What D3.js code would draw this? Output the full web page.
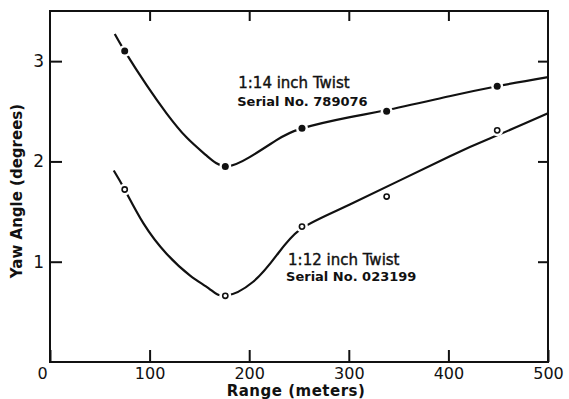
<!DOCTYPE html>
<html>
<head>
<meta charset="utf-8">
<script src="https://cdn.jsdelivr.net/npm/d3@7"></script>
<style>
  body { margin: 0; background: #fff; }
  svg { display: block; }
  text { font-family: "DejaVu Sans", sans-serif; fill: #111; }
</style>
</head>
<body>
<svg id="chart" width="569" height="399"></svg>
<script>
// measured points (range in meters, yaw in degrees)
const markerRange = [75, 176, 253, 338, 449];
const yaw14 = [3.10, 1.95, 2.33, 2.50, 2.75];
const yaw12 = [1.72, 0.66, 1.35, 1.65, 2.31];

// hand-faired curves
const curve14Range = [65, 75, 97, 117, 137, 157, 176, 200, 227, 253, 300, 337, 401, 449, 500];
const curve14Yaw = [3.27, 3.10, 2.76, 2.48, 2.24, 2.06, 1.95, 2.04, 2.21, 2.33, 2.44, 2.51, 2.65, 2.75, 2.84];
const curve12Range = [64, 75, 94, 117, 141, 160, 176, 204, 228, 251, 301, 401, 449, 500];
const curve12Yaw = [1.91, 1.72, 1.38, 1.08, 0.86, 0.73, 0.66, 0.80, 1.07, 1.32, 1.57, 2.05, 2.26, 2.48];

const xTicks = [0, 100, 200, 300, 400, 500];
const yTicks = [1, 2, 3];

const margin = { top: 11, right: 21, bottom: 37, left: 50 };
const svg = d3.select('#chart');
const width = 569 - margin.left - margin.right;
const height = 399 - margin.top - margin.bottom;

const g = svg.append('g')
  .attr('transform', `translate(${margin.left},${margin.top})`);

const x = d3.scaleLinear().domain([0, 500]).range([0, width]);
const y = d3.scaleLinear().domain([0, 3.5]).range([height, 0]);

// ticks point inward on all four sides
const bottom = g.append('g')
  .attr('transform', `translate(0,${height})`)
  .call(d3.axisBottom(x).tickValues(xTicks).tickSize(-12).tickPadding(6).tickFormat(d3.format('d')));
bottom.selectAll('text')
  .style('font-size', '16px')
  .attr('dx', d => d === 0 ? -8 : 0);

g.append('g')
  .call(d3.axisTop(x).tickValues(xTicks.slice(1, -1)).tickSize(-10).tickFormat(''));

const left = g.append('g')
  .call(d3.axisLeft(y).tickValues(yTicks).tickSize(-12).tickPadding(6).tickFormat(d3.format('d')));
left.selectAll('text').style('font-size', '17px');

g.append('g')
  .attr('transform', `translate(${width},0)`)
  .call(d3.axisRight(y).tickValues(yTicks).tickSize(-10).tickFormat(''));

g.selectAll('.domain').remove();
g.selectAll('.tick line').attr('stroke', '#111').attr('stroke-width', 2);

g.append('rect')
  .attr('width', width)
  .attr('height', height)
  .attr('fill', 'none')
  .attr('stroke', '#111')
  .attr('stroke-width', 2);

// curves
const line = d3.line()
  .x(d => x(d[0]))
  .y(d => y(d[1]))
  .curve(d3.curveNatural);

[[curve14Range, curve14Yaw], [curve12Range, curve12Yaw]].forEach(([r, v]) => {
  g.append('path')
    .datum(r.map((d, i) => [d, v[i]]))
    .attr('fill', 'none')
    .attr('stroke', '#111')
    .attr('stroke-width', 2.2)
    .attr('d', line);
});

// markers with a white gap around them, as in the original
const pts14 = markerRange.map((d, i) => [d, yaw14[i]]);
const pts12 = markerRange.map((d, i) => [d, yaw12[i]]);

g.selectAll('.halo')
  .data(pts14.concat(pts12))
  .enter().append('circle')
  .attr('cx', d => x(d[0]))
  .attr('cy', d => y(d[1]))
  .attr('r', 6)
  .attr('fill', '#fff');

g.selectAll('.dot14')
  .data(pts14)
  .enter().append('circle')
  .attr('cx', d => x(d[0]))
  .attr('cy', d => y(d[1]))
  .attr('r', 3.5)
  .attr('fill', '#111');

g.selectAll('.dot12')
  .data(pts12)
  .enter().append('circle')
  .attr('cx', d => x(d[0]))
  .attr('cy', d => y(d[1]))
  .attr('r', 2.6)
  .attr('fill', '#fff')
  .attr('stroke', '#111')
  .attr('stroke-width', 1.6);

// curve labels
const labels = [
  { t: '1:14 inch Twist', xv: 189, yv: 2.73, size: 15 },
  { t: 'Serial No. 789076', xv: 188, yv: 2.55, size: 13 },
  { t: '1:12 inch Twist', xv: 239, yv: 0.97, size: 15 },
  { t: 'Serial No. 023199', xv: 237, yv: 0.81, size: 13 }
];
g.selectAll('.lbl')
  .data(labels)
  .enter().append('text')
  .attr('x', d => x(d.xv))
  .attr('y', d => y(d.yv))
  .style('font-size', d => `${d.size}px`)
  .style('font-weight', d => d.size === 13 ? 'bold' : 'normal')
  .style('stroke', '#111')
  .style('stroke-width', d => d.size === 13 ? 0 : 0.4)
  .text(d => d.t);

// axis titles
svg.append('text')
  .attr('x', margin.left + x(250) - 3)
  .attr('y', 396)
  .attr('text-anchor', 'middle')
  .style('font-size', '15px')
  .style('font-weight', 'bold')
  .style('letter-spacing', '0.5px')
  .text('Range  (meters)');

svg.append('text')
  .attr('transform', 'translate(22,191) rotate(-90)')
  .attr('text-anchor', 'middle')
  .style('font-size', '15px')
  .style('font-weight', 'bold')
  .text('Yaw Angle (degrees)');
</script>
</body>
</html>
